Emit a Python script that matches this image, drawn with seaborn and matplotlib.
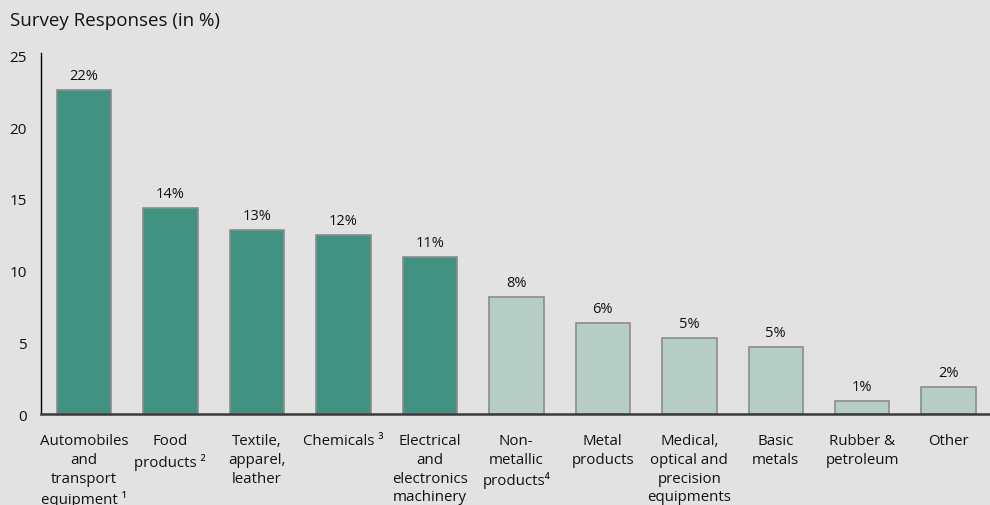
import matplotlib
matplotlib.use("Agg")
import matplotlib.pyplot as plt
import seaborn as sns
import pandas as pd

categories = [
    "Automobiles\nand\ntransport\nequipment \u00b9",
    "Food\nproducts \u00b2",
    "Textile,\napparel,\nleather",
    "Chemicals \u00b3",
    "Electrical\nand\nelectronics\nmachinery",
    "Non-\nmetallic\nproducts\u2074",
    "Metal\nproducts",
    "Medical,\noptical and\nprecision\nequipments",
    "Basic\nmetals",
    "Rubber &\npetroleum",
    "Other",
]
values = [22.6, 14.4, 12.85, 12.5, 10.97, 8.18, 6.32, 5.28, 4.69, 0.93, 1.88]
value_labels = ["22%", "14%", "13%", "12%", "11%", "8%", "6%", "5%", "5%", "1%", "2%"]
groups = ["top"] * 5 + ["rest"] * 6
yticks = [0, 5, 10, 15, 20, 25]

bg = "#E2E2E2"
dark = "#429282"
light = "#B6CDC5"

sns.set_theme(style="white")
plt.rcParams["font.family"] = ["Open Sans", "DejaVu Sans"]

df = pd.DataFrame({"cat": categories, "val": values, "grp": groups})

fig = plt.figure(figsize=(9.9, 5.06), dpi=100, facecolor=bg)
ax = fig.add_axes([0.041, 0.1798, 0.961, 0.714])
ax.set_facecolor(bg)

sns.barplot(data=df, x="cat", y="val", hue="cat",
            palette=[dark if g == "top" else light for g in groups],
            legend=False, width=0.63, edgecolor="#8C8C8C", linewidth=1.2,
            saturation=1, ax=ax)

for cont, lab in zip(ax.containers, value_labels):
    ax.bar_label(cont, labels=[lab], padding=5, fontsize=10.5, color="#111111")

ax.set_xlim(-0.5, 10.5)
ax.set_ylim(0, 25.2)
ax.set_yticks(yticks)
ax.set_yticklabels([str(t) for t in yticks], fontsize=11, color="#111111")
ax.tick_params(axis="y", length=0, pad=10)
ax.tick_params(axis="x", length=0, pad=14, labelsize=10.8, labelcolor="#111111")
for lbl in ax.get_xticklabels():
    lbl.set_linespacing(1.32)
    lbl.set_verticalalignment("top")
ax.set_xlabel("")
ax.set_ylabel("")

for s in ["top", "right"]:
    ax.spines[s].set_visible(False)
ax.spines["left"].set_color("#000000")
ax.spines["left"].set_linewidth(1.0)
ax.spines["bottom"].set_color("#3A3A3A")
ax.spines["bottom"].set_linewidth(1.8)

fig.text(0.01, 0.958, "Survey Responses (in %)", fontsize=13.5, color="#111111",
         ha="left", va="center")

fig.savefig("out.png", dpi=100, facecolor=bg)
